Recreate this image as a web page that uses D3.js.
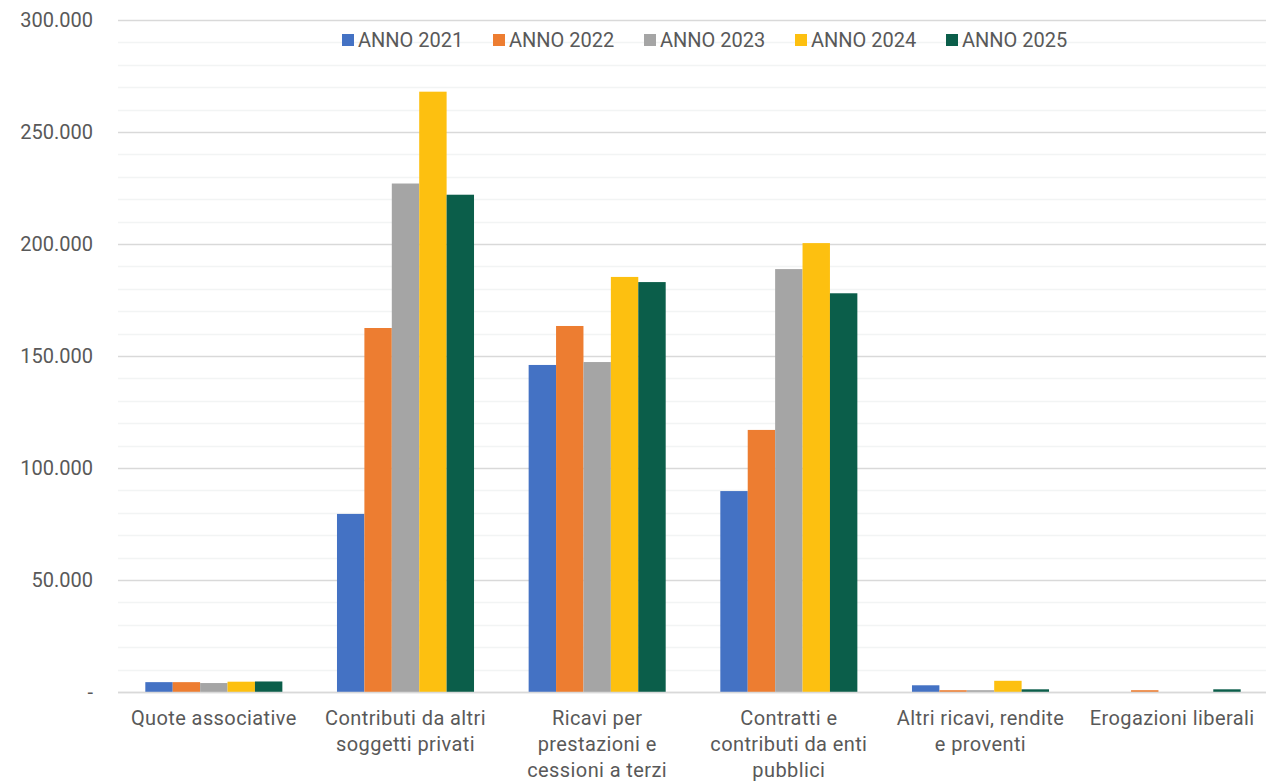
<!DOCTYPE html>
<html>
<head>
<meta charset="utf-8">
<script src="https://cdn.jsdelivr.net/npm/d3@7"></script>
<style>
  body { margin: 0; background: #fff; }
  text { font-family: Roboto, "Noto Sans", sans-serif; fill: #595959; }
</style>
</head>
<body>
<div id="chart"></div>
<script>
// Categories (each label split into its wrapped lines)
const categories = [
    ["Quote associative"],
    ["Contributi da altri", "soggetti privati"],
    ["Ricavi per", "prestazioni e", "cessioni a terzi"],
    ["Contratti e", "contributi da enti", "pubblici"],
    ["Altri ricavi, rendite", "e proventi"],
    ["Erogazioni liberali"]
];
const years = ["ANNO 2021", "ANNO 2022", "ANNO 2023", "ANNO 2024", "ANNO 2025"];
const colors = ["#4472c4", "#ed7d31", "#a5a5a5", "#fdc010", "#0b5e4a"];

// values per year, one entry per category
const anno2021 = [4400, 79500, 146000, 89700, 3000, 0];
const anno2022 = [4400, 162500, 163400, 117000, 800, 800];
const anno2023 = [4000, 227000, 147300, 188800, 800, 0];
const anno2024 = [4600, 268000, 185300, 200400, 5000, 0];
const anno2025 = [4700, 222000, 183000, 178000, 1200, 1200];
const series = [anno2021, anno2022, anno2023, anno2024, anno2025];

const yTicks = [0, 50000, 100000, 150000, 200000, 250000, 300000];
const yTickLabels = ["-", "50.000", "100.000", "150.000", "200.000", "250.000", "300.000"];

const W = 1266, H = 782;
const margin = { top: 20, right: 0, bottom: 90, left: 118 };
const width = 1268 - margin.left;
const height = 672;

const svg = d3.select("#chart").append("svg")
    .attr("width", W)
    .attr("height", H);

const g = svg.append("g")
    .attr("transform", `translate(${margin.left},${margin.top})`);

const x0 = d3.scaleBand()
    .domain(d3.range(categories.length))
    .range([0, width])
    .paddingInner(0.285)
    .paddingOuter(0.1425);

const x1 = d3.scaleBand()
    .domain(d3.range(years.length))
    .range([0, x0.bandwidth()]);

const y = d3.scaleLinear()
    .domain([0, 300000])
    .range([height, 0]);

// minor gridlines
g.append("g")
    .selectAll("line")
    .data(d3.range(10000, 300001, 10000).filter(v => v % 50000 !== 0))
    .enter().append("line")
    .attr("x1", 0).attr("x2", W - margin.left)
    .attr("y1", d => Math.round(y(d)) + 0.5)
    .attr("y2", d => Math.round(y(d)) + 0.5)
    .attr("stroke", "#f2f4f4")
    .attr("stroke-width", 1.5);

// major gridlines + y axis labels
const yAxis = d3.axisLeft(y)
    .tickValues(yTicks)
    .tickSize(-(W - margin.left))
    .tickPadding(25)
    .tickFormat((d, i) => yTickLabels[i]);

g.append("g")
    .call(yAxis)
    .call(a => a.select(".domain").remove())
    .call(a => a.selectAll(".tick line").attr("stroke", "#d9d9d9").attr("stroke-width", 1.5))
    .call(a => a.selectAll(".tick text")
        .style("font-size", "20px")
        .attr("fill", "#595959"));

// bars
const groups = g.append("g")
    .selectAll("g")
    .data(categories.map((c, i) => i))
    .enter().append("g")
    .attr("transform", i => `translate(${x0(i)},0)`);

groups.selectAll("rect")
    .data(i => series.map((s, k) => ({ k: k, v: s[i] })))
    .enter().append("rect")
    .attr("x", d => x1(d.k))
    .attr("width", x1.bandwidth())
    .attr("y", d => y(d.v))
    .attr("height", d => height - y(d.v))
    .attr("fill", d => colors[d.k]);

// baseline
g.append("line")
    .attr("x1", 0).attr("x2", W - margin.left)
    .attr("y1", height + 0.5).attr("y2", height + 0.5)
    .attr("stroke", "#d9d9d9")
    .attr("stroke-width", 1.5);

// category labels
const labels = g.append("g")
    .selectAll("text")
    .data(categories)
    .enter().append("text")
    .attr("x", (d, i) => x0(i) + x0.bandwidth() / 2)
    .attr("y", height + 33)
    .attr("text-anchor", "middle")
    .style("font-size", "20px")
    .style("letter-spacing", "0.4px");

labels.selectAll("tspan")
    .data(d => d)
    .enter().append("tspan")
    .attr("x", function() { return d3.select(this.parentNode).attr("x"); })
    .attr("dy", (d, i) => i === 0 ? 0 : 26)
    .text(d => d);

// legend
const legend = svg.append("g")
    .attr("transform", "translate(342,34)");

years.forEach((yr, i) => {
    const row = legend.append("g")
        .attr("transform", `translate(${i * 151}, 0)`);
    row.append("rect")
        .attr("width", 12)
        .attr("height", 12)
        .attr("fill", colors[i]);
    row.append("text")
        .attr("x", 16)
        .attr("y", 13)
        .style("font-size", "20px")
        .text(yr);
});
</script>
</body>
</html>
